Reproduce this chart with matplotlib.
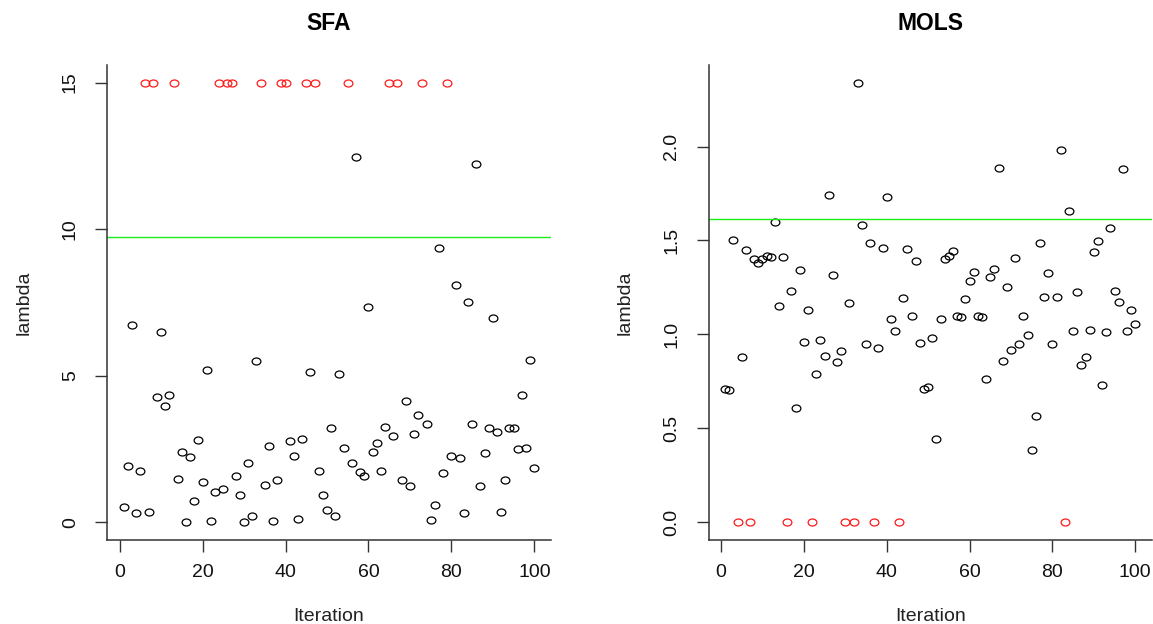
import numpy as np
import matplotlib
matplotlib.use('Agg')
import matplotlib.pyplot as plt
from matplotlib.path import Path
from matplotlib.transforms import Affine2D

plt.rcParams['font.family'] = ['Liberation Sans', 'DejaVu Sans']

iteration = np.arange(1, 101)

# SFA lambda per iteration (15 = capped at upper bound, drawn red)
sfa_lambda = [0.53, 1.91, 6.74, 0.31, 1.75, 15, 0.35, 15, 4.29, 6.48,
              3.98, 4.33, 15, 1.49, 2.41, 0.00, 2.22, 0.73, 2.80, 1.38,
              5.21, 0.04, 1.03, 15, 1.14, 15, 15, 1.57, 0.95, 0.00,
              2.03, 0.22, 5.49, 15, 1.26, 2.61, 0.04, 1.44, 15, 15,
              2.79, 2.27, 0.11, 2.84, 15, 5.14, 15, 1.75, 0.92, 0.42,
              3.22, 0.23, 5.07, 2.53, 15, 2.03, 12.46, 1.73, 1.60, 7.34,
              2.41, 2.71, 1.76, 3.26, 15, 2.95, 15, 1.46, 4.14, 1.24,
              3.02, 3.68, 15, 3.36, 0.07, 0.58, 9.36, 1.68, 15, 2.27,
              8.10, 2.19, 0.31, 7.53, 3.34, 12.23, 1.23, 2.37, 3.23, 6.98,
              3.07, 0.35, 1.46, 3.23, 3.23, 2.49, 4.33, 2.53, 5.55, 1.84]
sfa_cap = 15
sfa_ref = 9.74

# MOLS lambda per iteration (0 = truncated at lower bound, drawn red)
mols_lambda = [0.71, 0.705, 1.50, 0, 0.88, 1.45, 0, 1.40, 1.38, 1.40,
               1.42, 1.41, 1.60, 1.15, 1.41, 0, 1.23, 0.61, 1.345, 0.96,
               1.13, 0, 0.79, 0.97, 0.885, 1.74, 1.315, 0.856, 0.91, 0,
               1.165, 0, 2.34, 1.58, 0.947, 1.487, 0, 0.927, 1.462, 1.731,
               1.081, 1.018, 0, 1.194, 1.457, 1.099, 1.393, 0.952, 0.71, 0.72,
               0.98, 0.446, 1.081, 1.40, 1.42, 1.444, 1.10, 1.095, 1.189, 1.285,
               1.333, 1.10, 1.095, 0.761, 1.306, 1.348, 1.885, 0.857, 1.253, 0.915,
               1.409, 0.947, 1.10, 0.998, 0.386, 0.565, 1.487, 1.197, 1.327, 0.947,
               1.197, 1.98, 0, 1.659, 1.018, 1.225, 0.839, 0.879, 1.023, 1.439,
               1.497, 0.731, 1.011, 1.565, 1.23, 1.172, 1.878, 1.018, 1.129, 1.058]
mols_cap = 0
mols_ref = 1.616

x_ticks = [0, 20, 40, 60, 80, 100]
sfa_yticks = [0, 5, 10, 15]
mols_yticks = [0.0, 0.5, 1.0, 1.5, 2.0]

# slightly wide open circle, like the stretched R output
ring = Path.unit_circle().transformed(Affine2D().scale(1.25, 1.0))

fig = plt.figure(figsize=(11.53, 6.24), dpi=100)
ax1 = fig.add_axes([0.0931, 0.1346, 0.3846, 0.7612])
ax2 = fig.add_axes([0.6147, 0.1346, 0.3841, 0.7612])


def rplot(ax, y, cap, ref, title, yticks, ylabels):
    y = np.asarray(y, dtype=float)
    capped = y == cap
    ax.plot(iteration[~capped], y[~capped], ls='none', marker=ring, ms=6.3,
            mfc='none', mec='black', mew=0.9)
    ax.plot(iteration[capped], y[capped], ls='none', marker=ring, ms=6.3,
            mfc='none', mec='#ff1a1a', mew=0.9)
    ax.axhline(ref, color='#1aee1a', lw=1.0)
    xr = iteration.max() - iteration.min()
    yr = y.max() - y.min()
    ax.set_xlim(iteration.min() - 0.04 * xr, iteration.max() + 0.04 * xr)
    ax.set_ylim(y.min() - 0.04 * yr, y.max() + 0.04 * yr)
    for s in ['top', 'right']:
        ax.spines[s].set_visible(False)
    for s in ['left', 'bottom']:
        ax.spines[s].set_color('#333333')
        ax.spines[s].set_linewidth(1.1)
    ax.set_xticks(x_ticks)
    ax.set_yticks(yticks)
    ax.set_yticklabels(ylabels, rotation=90, va='center')
    ax.tick_params(axis='both', length=8.5, width=1.0, color='#333333',
                   labelsize=14, labelcolor='#111111')
    ax.tick_params(axis='x', pad=9)
    ax.tick_params(axis='y', pad=12)
    ax.set_title(title, fontsize=16.5, fontweight='bold', pad=25)
    ax.set_xlabel('Iteration', fontsize=14, labelpad=19, color='#222222')
    ax.set_ylabel('lambda', fontsize=14, labelpad=21, color='#222222')


rplot(ax1, sfa_lambda, sfa_cap, sfa_ref, 'SFA', sfa_yticks,
      [str(v) for v in sfa_yticks])
rplot(ax2, mols_lambda, mols_cap, mols_ref, 'MOLS', mols_yticks,
      ['%.1f' % v for v in mols_yticks])

fig.savefig('out.png', dpi=100)
